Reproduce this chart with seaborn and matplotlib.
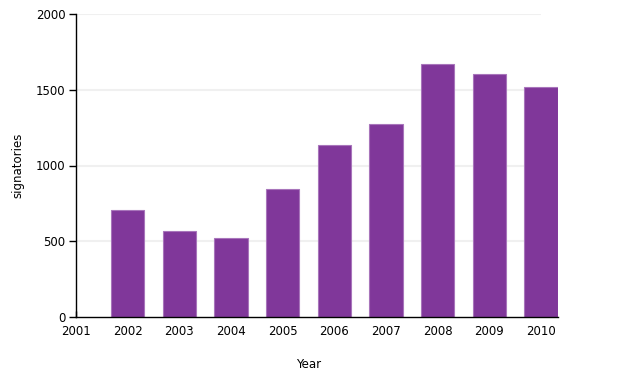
import matplotlib
matplotlib.use("Agg")
import matplotlib.pyplot as plt
import seaborn as sns
import pandas as pd

years = [2002, 2003, 2004, 2005, 2006, 2007, 2008, 2009, 2010]
signatories = [706, 568, 521, 845, 1135, 1274, 1670, 1604, 1520]
x_ticks = [2001, 2002, 2003, 2004, 2005, 2006, 2007, 2008, 2009, 2010]
y_ticks = [0, 500, 1000, 1500, 2000]

sns.set_style("white")
plt.rcParams['font.family'] = ['DejaVu Sans']
plt.rcParams['font.size'] = 8.5
plt.rcParams['text.color'] = 'black'
plt.rcParams['axes.labelcolor'] = 'black'
plt.rcParams['xtick.color'] = 'black'
plt.rcParams['ytick.color'] = 'black'

df = pd.DataFrame({"Year": years, "signatories": signatories})

fig = plt.figure(figsize=(6.22, 3.78), dpi=100)
ax = fig.add_axes([76/622, 1-317/378, (558-76)/622, (317-14)/378])

for yv in y_ticks[1:]:
    ax.hlines(yv, 2001, 2010, color="#f0f0f0", linewidth=1.5, zorder=0)

sns.barplot(data=df, x="Year", y="signatories", native_scale=True, width=0.65,
            color="#80379a", saturation=1, edgecolor="#a875bb", linewidth=0.8,
            ax=ax, zorder=2)

ax.set_xlim(2001, 2010 + 0.33)
ax.set_ylim(0, 2000)
ax.set_xticks(x_ticks)
ax.set_xticklabels([str(v) for v in x_ticks])
ax.set_yticks(y_ticks)
ax.set_yticklabels([str(v) for v in y_ticks])

for s in ["top", "right"]:
    ax.spines[s].set_visible(False)
for s in ["left", "bottom"]:
    ax.spines[s].set_color("black")
    ax.spines[s].set_linewidth(1)
    ax.spines[s].set_zorder(3)

ax.tick_params(axis="x", direction="in", length=4, width=1, colors="black", pad=6, labelsize=8.5)
ax.tick_params(axis="y", direction="out", length=5, width=1, colors="black", pad=2.5, labelsize=8.5)
ax.tick_params(left=True, bottom=True)

ax.set_xlabel("Year", fontsize=8.5, color="black")
ax.set_ylabel("signatories", fontsize=8.5, color="black")
ax.xaxis.set_label_coords(232.5/482, -41/303)
ax.yaxis.set_label_coords(-52/482, 0.5)

fig.savefig("out.png", dpi=100)
